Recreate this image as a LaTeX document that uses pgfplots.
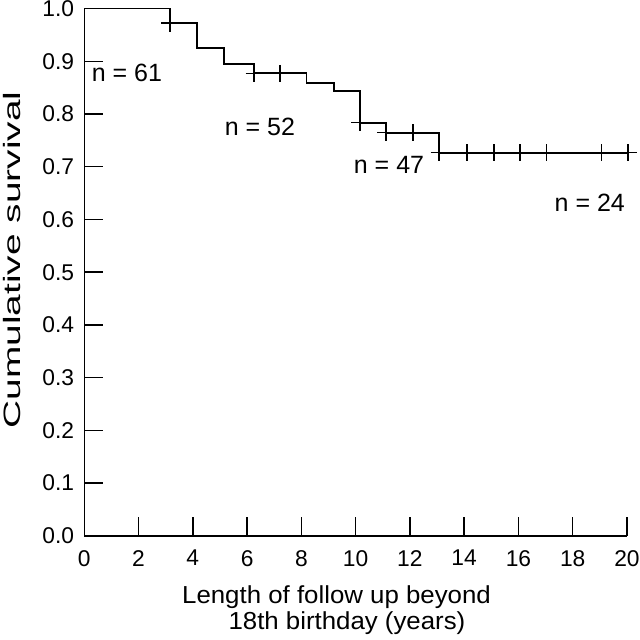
\documentclass[border=0pt]{standalone}
\usepackage{fontspec}
\setmainfont{Liberation Sans}
\usepackage{pgfplots}
\pgfplotsset{compat=1.18}
\begin{document}
\fontsize{11.8}{14}\selectfont
\begin{tikzpicture}
\begin{axis}[
  scale only axis,
  width=271.4pt, height=263.75pt,
  xmin=0, xmax=20, ymin=0, ymax=1,
  axis x line=bottom, axis y line=left,
  axis line style={line width=0.7pt, -},
  xtick={0,2,...,20},
  ytick={0,0.1,...,1.0},
  tick align=inside,
  major tick length=9.5pt,
  tick style={line width=0.7pt, black},
  /pgf/number format/assume math mode=true,
  yticklabel style={/pgf/number format/fixed, /pgf/number format/fixed zerofill, /pgf/number format/precision=1, xshift=-1pt},
  xticklabel style={yshift=-3pt},
  ticklabel style={font=\fontsize{11.4}{14}\selectfont},
  label style={font=\fontsize{11.85}{14}\selectfont},
  ylabel={\scalebox{1.64}[1]{Cumulative survival}},
  ylabel style={at={(rel axis cs:-0.1332,0.523)}, anchor=center, rotate=0},
  clip=false,
]
\addplot[const plot, line width=0.9pt, black, mark=none] coordinates {
(0.28,1.0) (3.16,0.972) (4.14,0.9245) (5.16,0.894) (6.26,0.877) (8.19,0.858) (9.21,0.844) (10.15,0.7835) (11.11,0.7645) (13.08,0.7266) (20.04,0.7266)
};
\addplot[only marks, mark=+, mark size=4.3pt, mark options={line width=0.8pt, black}] coordinates {
(3.16,0.972) (6.26,0.877) (7.21,0.877) (10.15,0.7835) (11.11,0.7645) (12.12,0.7645) (13.08,0.7266) (14.11,0.7266) (15.10,0.7266) (16.05,0.7266) (17.03,0.7266) (19.06,0.7266) (20.04,0.7266)
};
\node[font=\fontsize{12.5}{14}\selectfont] at (axis cs:1.57,0.877) {n = 61};
\node[font=\fontsize{12.5}{14}\selectfont] at (axis cs:6.47,0.776) {n = 52};
\node[font=\fontsize{12.5}{14}\selectfont] at (axis cs:11.23,0.703) {n = 47};
\node[font=\fontsize{12.5}{14}\selectfont] at (axis cs:18.63,0.631) {n = 24};
\node[anchor=base, inner sep=0pt, font=\fontsize{12.3}{14}\selectfont] at (axis cs:9.295,-0.1276) {\scalebox{1.05}[1]{Length of follow up beyond}};
\node[anchor=base, inner sep=0pt, font=\fontsize{12.3}{14}\selectfont] at (axis cs:9.68,-0.1782) {\scalebox{1.05}[1]{18th birthday (years)}};
\coordinate (bbsw) at (axis cs:-3.107,-0.1972);
\coordinate (bbne) at (axis cs:20.48,1.0161);
\end{axis}
\pgfresetboundingbox
\path[use as bounding box] (bbsw) rectangle (bbne);
\end{tikzpicture}
\end{document}
